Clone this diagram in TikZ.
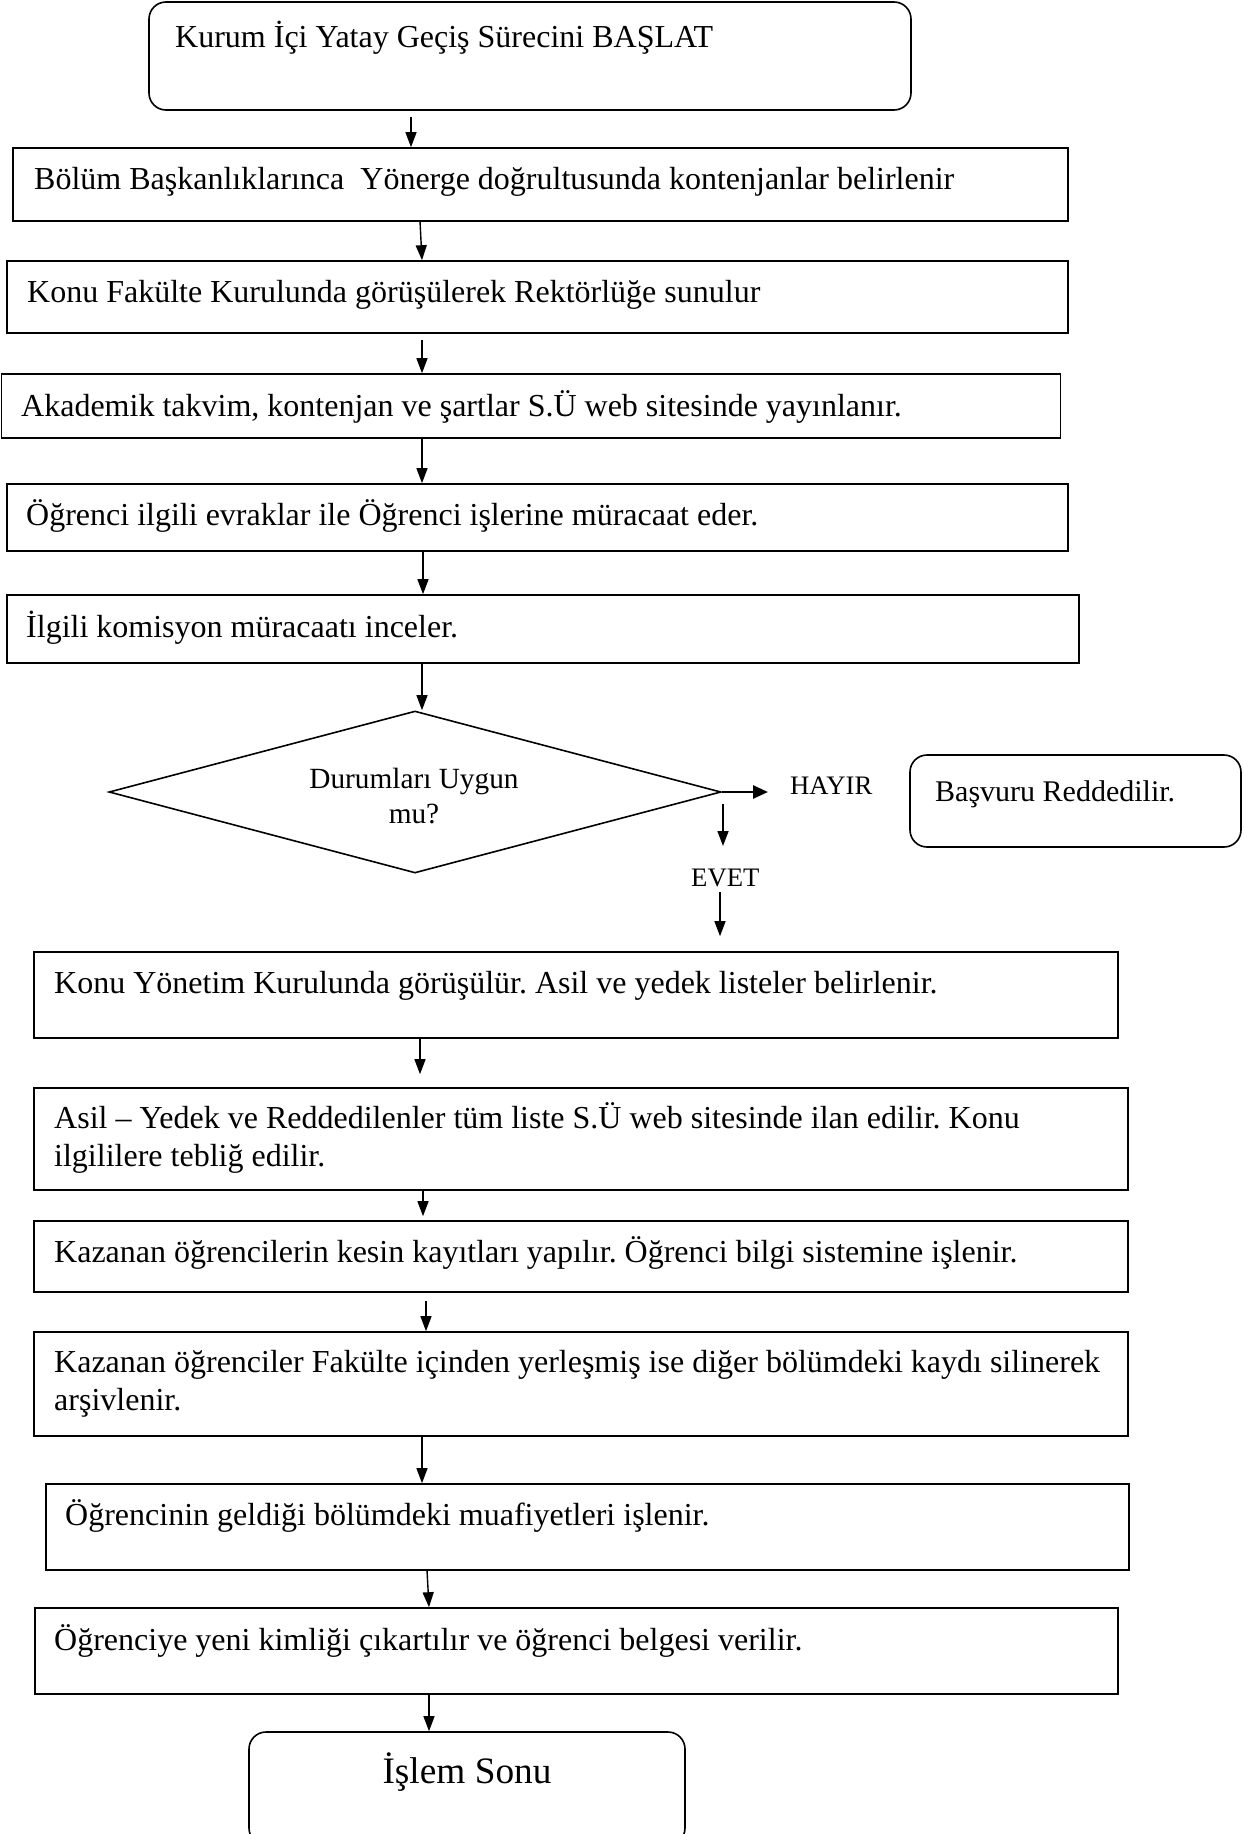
\documentclass[tikz,border=0pt]{standalone}
\usepackage{fontspec}
\setmainfont{Liberation Serif}
\usetikzlibrary{arrows.meta,shapes.geometric}
\frenchspacing

\begin{document}
\begin{tikzpicture}[x=1pt,y=-1pt,
  box/.style={draw, line width=1.6pt, inner sep=0pt},
  rbox/.style={box, rounded corners=17pt},
  txt/.style={anchor=base west, inner sep=0pt, font=\fontsize{32}{38}\selectfont},
  flow/.style={line width=1.4pt, -{Triangle[length=15pt,width=11pt]}},
  small/.style={anchor=base west, inner sep=0pt, font=\fontsize{26.7}{32}\selectfont}
]
\useasboundingbox (0,0) rectangle (1243,1834);

% process boxes
\node[rbox, minimum width=762pt, minimum height=108pt] (start) at (530,56) {};
\node[box, minimum width=1055pt, minimum height=73pt] (b2) at (540.5,184.5) {};
\node[box, minimum width=1061pt, minimum height=72pt] (b3) at (537.5,297) {};
\node[box, minimum width=1059pt, minimum height=64pt] (b4) at (531,406) {};
\node[box, minimum width=1061pt, minimum height=67pt] (b5) at (537.5,517.5) {};
\node[box, minimum width=1072pt, minimum height=68pt] (b6) at (543,629) {};
\node[diamond, box, minimum width=612pt, minimum height=162pt] (dec) at (415,792) {};
\node[rbox, minimum width=331pt, minimum height=92pt] (rej) at (1075.5,801) {};
\node[box, minimum width=1084pt, minimum height=86pt] (b7) at (576,995) {};
\node[box, minimum width=1094pt, minimum height=102pt] (b8) at (581,1139) {};
\node[box, minimum width=1094pt, minimum height=71pt] (b9) at (581,1256.5) {};
\node[box, minimum width=1094pt, minimum height=104pt] (b10) at (581,1384) {};
\node[box, minimum width=1083pt, minimum height=86pt] (b11) at (587.5,1527) {};
\node[box, minimum width=1083pt, minimum height=86pt] (b12) at (576.5,1651) {};
\node[rbox, minimum width=436pt, minimum height=113pt] (end) at (467,1788.5) {};

% texts
\node[txt] (tstart) at (175,47) {Kurum İçi Yatay Geçiş Sürecini BAŞLAT};
\node[txt] (t2) at (34,189) {Bölüm Başkanlıklarınca\ \ Yönerge doğrultusunda kontenjanlar belirlenir};
\node[txt] (t3) at (27,302) {Konu Fakülte Kurulunda görüşülerek Rektörlüğe sunulur};
\node[txt] (t4) at (21,416) {Akademik takvim, kontenjan ve şartlar S.Ü web sitesinde yayınlanır.};
\node[txt] (t5) at (26,525) {Öğrenci ilgili evraklar ile Öğrenci işlerine müracaat eder.};
\node[txt] (t6) at (26,637) {İlgili komisyon müracaatı inceler.};
\node[anchor=base, inner sep=0pt, font=\fontsize{29.3}{35}\selectfont] (td1) at (414,788) {Durumları Uygun};
\node[anchor=base, inner sep=0pt, font=\fontsize{29.3}{35}\selectfont] (td2) at (414,823) {mu?};
\node[small] (hayir) at (790,794) {HAYIR};
\node[anchor=base west, inner sep=0pt, font=\fontsize{30}{36}\selectfont] (trej) at (935,801) {Başvuru Reddedilir.};
\node[small] (evet) at (691,886) {EVET};
\node[txt] (t7) at (54,993) {Konu Yönetim Kurulunda görüşülür. Asil ve yedek listeler belirlenir.};
\node[txt] (t8a) at (54,1128) {Asil – Yedek ve Reddedilenler tüm liste S.Ü web sitesinde ilan edilir. Konu};
\node[txt] (t8b) at (54,1166) {ilgililere tebliğ edilir.};
\node[txt] (t9) at (54,1262) {Kazanan öğrencilerin kesin kayıtları yapılır. Öğrenci bilgi sistemine işlenir.};
\node[txt] (t10a) at (54,1372) {Kazanan öğrenciler Fakülte içinden yerleşmiş ise diğer bölümdeki kaydı silinerek};
\node[txt] (t10b) at (54,1410) {arşivlenir.};
\node[txt] (t11) at (65,1525) {Öğrencinin geldiği bölümdeki muafiyetleri işlenir.};
\node[txt] (t12) at (54,1650) {Öğrenciye yeni kimliği çıkartılır ve öğrenci belgesi verilir.};
\node[anchor=base, inner sep=0pt, font=\fontsize{37.3}{44}\selectfont] (tend) at (467,1783) {İşlem Sonu};

% connector start points
\coordinate (c1) at (411,117);
\coordinate (c2) at (420,221);
\coordinate (c3) at (422,340);
\coordinate (c4) at (422,438);
\coordinate (c5) at (423,551);
\coordinate (c6) at (422,663);
\coordinate (ev1) at (723,804);
\coordinate (ev1e) at (723,846);
\coordinate (ev2) at (720,892);
\coordinate (c7) at (420,1039);
\coordinate (c8) at (423,1190);
\coordinate (c9) at (426,1301);
\coordinate (c10) at (422,1436);
\coordinate (c11) at (427,1570);
\coordinate (c12) at (429,1694);
\coordinate (hend) at (768,792);

% connectors
\draw[flow] (c1) -- (c1 |- b2.north);
\draw[flow] (c2) -- ([xshift=2pt]c2 |- b3.north);
\draw[flow] (c3) -- (c3 |- b4.north);
\draw[flow] (c4) -- (c4 |- b5.north);
\draw[flow] (c5) -- (c5 |- b6.north);
\draw[flow] (c6) -- (c6 |- dec.north);
\draw[flow, line width=2.6pt, -{Triangle[length=15pt,width=13pt]}] (dec.east) -- (hend);
\draw[flow] (ev1) -- (ev1e);
\draw[flow, shorten >=15pt] (ev2) -- (ev2 |- b7.north);
\draw[flow, shorten >=13pt] (c7) -- (c7 |- b8.north);
\draw[flow, shorten >=4pt] (c8) -- (c8 |- b9.north);
\draw[flow] (c9) -- (c9 |- b10.north);
\draw[flow] (c10) -- (c10 |- b11.north);
\draw[flow] (c11) -- ([xshift=2pt]c11 |- b12.north);
\draw[flow] (c12) -- (c12 |- end.north);
\end{tikzpicture}
\end{document}
